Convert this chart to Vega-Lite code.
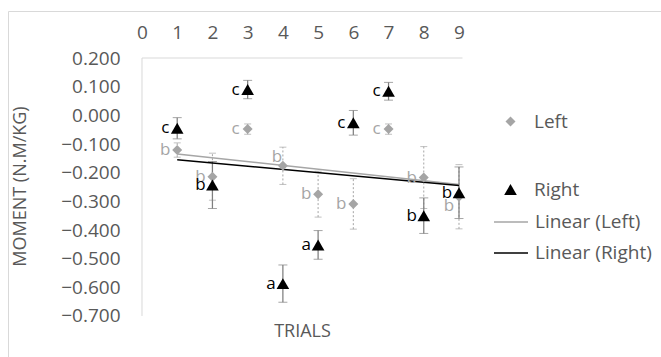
{
  "$schema": "https://vega.github.io/schema/vega-lite/v6.json",
  "width": 660,
  "height": 350,
  "autosize": "none",
  "padding": {"left": 8, "top": 11, "right": 0, "bottom": 0},
  "background": "white",
  "config": {
    "view": {"stroke": "#d9d9d9", "strokeWidth": 1},
    "font": "Open Sans",
    "axis": {
      "labelFont": "Open Sans", "titleFont": "Open Sans",
      "labelColor": "#595959", "titleColor": "#595959",
      "labelFontSize": 19, "titleFontSize": 18, "titleFontWeight": "normal",
      "grid": false, "ticks": false, "tickSize": 0, "domain": false
    },
    "legend": {
      "labelFont": "Open Sans", "labelFontSize": 19, "labelColor": "#595959", "padding": 0
    }
  },
  "data": {
    "values": [
      {"trial": 1, "series": "Left", "moment": -0.121, "err": 0.025, "letter": "b"},
      {"trial": 2, "series": "Left", "moment": -0.214, "err": 0.082, "letter": "b"},
      {"trial": 3, "series": "Left", "moment": -0.048, "err": 0.018, "letter": "c"},
      {"trial": 4, "series": "Left", "moment": -0.176, "err": 0.065, "letter": "b"},
      {"trial": 5, "series": "Left", "moment": -0.275, "err": 0.08, "letter": "b"},
      {"trial": 6, "series": "Left", "moment": -0.309, "err": 0.088, "letter": "b"},
      {"trial": 7, "series": "Left", "moment": -0.048, "err": 0.018, "letter": "c"},
      {"trial": 8, "series": "Left", "moment": -0.217, "err": 0.108, "letter": "b"},
      {"trial": 9, "series": "Left", "moment": -0.284, "err": 0.112, "letter": "b"},
      {"trial": 1, "series": "Right", "moment": -0.045, "err": 0.037, "letter": "c"},
      {"trial": 2, "series": "Right", "moment": -0.243, "err": 0.082, "letter": "b"},
      {"trial": 3, "series": "Right", "moment": 0.09, "err": 0.032, "letter": "c"},
      {"trial": 4, "series": "Right", "moment": -0.587, "err": 0.065, "letter": "a"},
      {"trial": 5, "series": "Right", "moment": -0.452, "err": 0.05, "letter": "a"},
      {"trial": 6, "series": "Right", "moment": -0.026, "err": 0.043, "letter": "c"},
      {"trial": 7, "series": "Right", "moment": 0.084, "err": 0.031, "letter": "c"},
      {"trial": 8, "series": "Right", "moment": -0.35, "err": 0.062, "letter": "b"},
      {"trial": 9, "series": "Right", "moment": -0.27, "err": 0.09, "letter": "b"}
    ]
  },
  "resolve": {"axis": {"x": "independent", "y": "independent"}},
  "layer": [
    {
      "data": {"values": [{}]},
      "mark": {"type": "rule", "color": "#d9d9d9", "strokeWidth": 1},
      "encoding": {
        "x": {"datum": 0, "type": "quantitative", "scale": {"domain": [-3.804, 14.934], "nice": false, "zero": false},
          "axis": {"orient": "top", "offset": -47, "values": [0,1,2,3,4,5,6,7,8,9], "format": "d", "labelPadding": 16, "title": null}},
        "x2": {"datum": 9.1},
        "y": {"datum": 0.2, "type": "quantitative", "scale": {"domain": [-0.857, 0.364], "nice": false, "zero": false}, "axis": null}
      }
    },
    {
      "data": {"values": [{}]},
      "mark": {"type": "rule", "color": "#d9d9d9", "strokeWidth": 1},
      "encoding": {
        "x": {"datum": 0, "type": "quantitative", "scale": {"domain": [-3.804, 14.934], "nice": false, "zero": false}, "axis": null},
        "y": {"datum": -0.7, "type": "quantitative", "scale": {"domain": [-0.857, 0.364], "nice": false, "zero": false},
          "axis": {"orient": "left", "offset": -134, "values": [-0.7,-0.6,-0.5,-0.4,-0.3,-0.2,-0.1,0,0.1,0.2], "format": ".3f", "labelPadding": 22,
            "title": "MOMENT (N.M/KG)", "titleX": -122, "titleBaseline": "middle"}},
        "y2": {"datum": 0.2}
      }
    },
    {
      "transform": [{"filter": "datum.series === 'Left'"}],
      "mark": {"type": "errorbar", "color": "#a5a5a5",
        "rule": {"strokeDash": [2, 2], "strokeWidth": 1},
        "ticks": {"size": 7, "strokeDash": [2, 2], "strokeWidth": 1}},
      "encoding": {
        "x": {"field": "trial", "type": "quantitative", "scale": {"domain": [-3.804, 14.934], "nice": false, "zero": false}, "axis": null},
        "y": {"field": "moment", "type": "quantitative", "scale": {"domain": [-0.857, 0.364], "nice": false, "zero": false}, "axis": null},
        "yError": {"field": "err"}
      }
    },
    {
      "transform": [{"filter": "datum.series === 'Right'"}],
      "mark": {"type": "errorbar", "color": "#7f7f7f",
        "rule": {"strokeWidth": 1.25},
        "ticks": {"size": 9, "strokeWidth": 1.25}},
      "encoding": {
        "x": {"field": "trial", "type": "quantitative", "scale": {"domain": [-3.804, 14.934], "nice": false, "zero": false}, "axis": null},
        "y": {"field": "moment", "type": "quantitative", "scale": {"domain": [-0.857, 0.364], "nice": false, "zero": false}, "axis": null},
        "yError": {"field": "err"}
      }
    },
    {
      "transform": [{"regression": "moment", "on": "trial", "groupby": ["series"], "extent": [1, 9]}],
      "mark": {"type": "line", "strokeWidth": 1.5},
      "encoding": {
        "x": {"field": "trial", "type": "quantitative", "scale": {"domain": [-3.804, 14.934], "nice": false, "zero": false}, "axis": null},
        "y": {"field": "moment", "type": "quantitative", "scale": {"domain": [-0.857, 0.364], "nice": false, "zero": false}, "axis": null},
        "stroke": {"field": "series", "type": "nominal",
          "scale": {"domain": ["Left", "Right"], "range": ["#a6a6a6", "#000000"]},
          "legend": {"orient": "none", "legendX": 485, "legendY": 193, "title": null,
            "symbolType": "stroke", "symbolSize": 1156, "symbolStrokeWidth": 1.5,
            "labelOffset": 6, "rowPadding": 3,
            "labelExpr": "'Linear (' + datum.label + ')'"}}
      }
    },
    {
      "mark": {"type": "point", "filled": true, "opacity": 1, "strokeWidth": 0},
      "encoding": {
        "x": {"field": "trial", "type": "quantitative", "scale": {"domain": [-3.804, 14.934], "nice": false, "zero": false},
          "axis": {"orient": "bottom", "offset": -30, "labels": false, "title": "TRIALS", "titleX": 294, "titleY": 0, "titleBaseline": "middle"}},
        "y": {"field": "moment", "type": "quantitative", "scale": {"domain": [-0.857, 0.364], "nice": false, "zero": false}, "axis": null},
        "shape": {"field": "series", "type": "nominal",
          "scale": {"range": ["diamond", "triangle-up"]},
          "legend": {"orient": "none", "legendX": 493, "legendY": 101, "title": null,
            "labelOffset": 14, "rowPadding": 48, "symbolStrokeWidth": 0}},
        "fill": {"field": "series", "type": "nominal",
          "scale": {"range": ["#a5a5a5", "#000000"]}},
        "size": {"field": "series", "type": "nominal",
          "scale": {"range": [100, 160]}}
      }
    },
    {
      "transform": [{"filter": "!(datum.series === 'Left' && (datum.trial === 4 || datum.trial === 9))"}],
      "mark": {"type": "text", "font": "Open Sans", "fontSize": 17, "dx": -12, "align": "center", "baseline": "middle"},
      "encoding": {
        "x": {"field": "trial", "type": "quantitative", "scale": {"domain": [-3.804, 14.934], "nice": false, "zero": false}, "axis": null},
        "y": {"field": "moment", "type": "quantitative", "scale": {"domain": [-0.857, 0.364], "nice": false, "zero": false}, "axis": null},
        "text": {"field": "letter"},
        "color": {"condition": {"test": "datum.series === 'Left'", "value": "#a5a5a5"}, "value": "#000000"}
      }
    },
    {
      "transform": [{"filter": "datum.series === 'Left' && datum.trial === 4"}],
      "mark": {"type": "text", "font": "Open Sans", "fontSize": 17, "dx": -6, "dy": -9, "align": "center", "baseline": "middle", "color": "#a5a5a5"},
      "encoding": {
        "x": {"field": "trial", "type": "quantitative", "scale": {"domain": [-3.804, 14.934], "nice": false, "zero": false}, "axis": null},
        "y": {"field": "moment", "type": "quantitative", "scale": {"domain": [-0.857, 0.364], "nice": false, "zero": false}, "axis": null},
        "text": {"field": "letter"}
      }
    },
    {
      "transform": [{"filter": "datum.series === 'Left' && datum.trial === 9"}],
      "mark": {"type": "text", "font": "Open Sans", "fontSize": 17, "dx": -10, "dy": 9, "align": "center", "baseline": "middle", "color": "#a5a5a5"},
      "encoding": {
        "x": {"field": "trial", "type": "quantitative", "scale": {"domain": [-3.804, 14.934], "nice": false, "zero": false}, "axis": null},
        "y": {"field": "moment", "type": "quantitative", "scale": {"domain": [-0.857, 0.364], "nice": false, "zero": false}, "axis": null},
        "text": {"field": "letter"}
      }
    }
  ]
}
